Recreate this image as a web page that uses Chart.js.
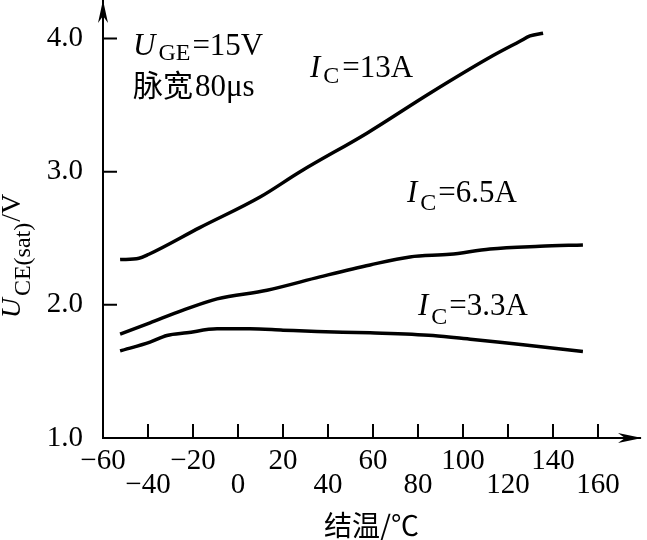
<!DOCTYPE html>
<html>
<head>
<meta charset="utf-8">
<script src="https://cdn.jsdelivr.net/npm/chart.js@4.4.1/dist/chart.umd.min.js"></script>
<style>
  html, body { margin: 0; padding: 0; background: #fff; }
  #wrap { width: 647px; height: 540px; position: relative; }
</style>
</head>
<body>
<div id="wrap"><canvas id="chart"></canvas></div>
<script>
// values (junction temperature in °C, U_CE(sat) in V)
const tempIc13 = [-52.4, -44, -39.6, -17, 9.8, 27.6, 57.3, 85.3, 112, 125.3, 129.8, 135.6];
const volIc13  = [2.34, 2.35, 2.38, 2.58, 2.81, 3.00, 3.29, 3.59, 3.86, 3.98, 4.02, 4.04];

const tempIc65 = [-52.4, -39.1, -24.4, -9.3, 12.9, 36.4, 58.7, 76.4, 94.2, 112, 134.2, 153.3];
const volIc65  = [1.78, 1.865, 1.96, 2.045, 2.11, 2.21, 2.30, 2.36, 2.38, 2.42, 2.44, 2.45];

const tempIc33 = [-52.4, -39.1, -31.6, -22.7, -9.3, 5.3, 20, 35.1, 58.7, 86.7, 104.4, 116.4, 126.7, 153.3];
const volIc33  = [1.654, 1.72, 1.77, 1.79, 1.82, 1.82, 1.81, 1.80, 1.79, 1.77, 1.74, 1.72, 1.70, 1.65];

const xTicks = [-60, -40, -20, 0, 20, 40, 60, 80, 100, 120, 140, 160];
const yTicks = [1, 2, 3, 4];

const SERIF = '"Liberation Serif", "Times New Roman", serif';
const CJK = '"Noto Sans CJK SC", sans-serif';

const pts = (xs, ys) => xs.map((x, i) => ({ x: x, y: ys[i] }));
const line = (label, data) => ({
	label, data, borderColor: '#000', borderWidth: 3.5, pointRadius: 0,
	tension: 0.4, cubicInterpolationMode: 'monotone', fill: false
});

// U, I with subscripts etc, drawn piece by piece
const rich = (ctx, x, y, parts) => {
	parts.forEach((p) => {
		ctx.font = p.f;
		ctx.fillText(p.t, x, y + (p.dy || 0));
		x += ctx.measureText(p.t).width + (p.gap || 0);
	});
};
const richWidth = (ctx, parts) => parts.reduce((w, p) => { ctx.font = p.f; return w + ctx.measureText(p.t).width + (p.gap || 0); }, 0);

const it31 = 'italic 31px ' + SERIF, rm31 = '31px ' + SERIF, sub24 = '24px ' + SERIF;

const decor = {
	id: 'decor',
	afterDraw(chart) {
		const { ctx, chartArea: ca, scales: { x, y } } = chart;
		ctx.save();
		ctx.strokeStyle = '#000'; ctx.fillStyle = '#000'; ctx.lineWidth = 2;
		// inward tick marks
		ctx.beginPath();
		x.ticks.forEach((t) => { if (t.value === x.min) return; const px = x.getPixelForValue(t.value); ctx.moveTo(px, ca.bottom); ctx.lineTo(px, ca.bottom - 14); });
		y.ticks.forEach((t) => { if (t.value === y.min) return; const py = y.getPixelForValue(t.value); ctx.moveTo(ca.left, py); ctx.lineTo(ca.left + 14, py); });
		ctx.stroke();
		// arrow heads
		ctx.beginPath();
		ctx.moveTo(ca.right + 2, ca.bottom); ctx.lineTo(ca.right - 22, ca.bottom - 5); ctx.lineTo(ca.right - 15, ca.bottom); ctx.lineTo(ca.right - 22, ca.bottom + 5); ctx.closePath();
		ctx.moveTo(ca.left, ca.top); ctx.lineTo(ca.left - 5, ca.top + 23); ctx.lineTo(ca.left, ca.top + 16); ctx.lineTo(ca.left + 5, ca.top + 23); ctx.closePath();
		ctx.fill();

		ctx.textBaseline = 'alphabetic'; ctx.textAlign = 'left';
		rich(ctx, 133, 55, [{ t: 'U', f: it31, gap: 3 }, { t: 'GE', f: sub24, dy: 5, gap: 2 }, { t: '=15V', f: rm31 }]);
		rich(ctx, 133, 96, [{ t: '脉宽', f: '30px ' + CJK, gap: 2 }, { t: '80μs', f: rm31 }]);
		rich(ctx, 310, 77, [{ t: 'I', f: it31, gap: 3 }, { t: 'C', f: sub24, dy: 6, gap: 3 }, { t: '=13A', f: rm31 }]);
		rich(ctx, 407, 202, [{ t: 'I', f: it31, gap: 3 }, { t: 'C', f: sub24, dy: 8, gap: 2 }, { t: '=6.5A', f: rm31 }]);
		rich(ctx, 418, 315, [{ t: 'I', f: it31, gap: 3 }, { t: 'C', f: sub24, dy: 9, gap: 2 }, { t: '=3.3A', f: rm31 }]);

		// y axis title, rotated
		const yTitle = [{ t: 'U', f: 'italic 28px ' + SERIF, gap: 2 }, { t: 'CE(sat)', f: sub24, dy: 10, gap: 1 }, { t: '/V', f: '28px ' + SERIF }];
		ctx.translate(20, 256);
		ctx.rotate(-Math.PI / 2);
		rich(ctx, -richWidth(ctx, yTitle) / 2, 0, yTitle);
		ctx.restore();
	}
};

Chart.defaults.color = '#000';
Chart.defaults.font.family = SERIF;

new Chart(document.getElementById('chart'), {
	type: 'line',
	data: {
		datasets: [
			line('IC=13A', pts(tempIc13, volIc13)),
			line('IC=6.5A', pts(tempIc65, volIc65)),
			line('IC=3.3A', pts(tempIc33, volIc33))
		]
	},
	options: {
		responsive: true, maintainAspectRatio: false, animation: false,
		layout: { padding: { left: 0, right: 7, top: 0, bottom: 0 } },
		plugins: { legend: { display: false }, tooltip: { enabled: false } },
		scales: {
			x: {
				type: 'linear', min: -60, max: 178.67,
				grid: { display: false, drawTicks: false },
				border: { display: true, color: '#000', width: 2 },
				afterBuildTicks: (s) => { s.ticks = xTicks.map((v) => ({ value: v })); },
				afterFit: (s) => { s.height = 102; s.paddingLeft = 0; s.paddingRight = 0; },
				ticks: {
					autoSkip: false, maxRotation: 0, minRotation: 0, padding: 11,
					font: { family: SERIF, size: 29, lineHeight: '24px' },
					callback: (v, i) => { const lbl = String(v).replace('-', '−'); return i % 2 === 0 ? [lbl, ''] : ['', lbl]; }
				},
				title: { display: true, text: '结温/℃', font: { family: CJK, size: 28, lineHeight: 1 }, padding: { top: 0, bottom: 1 } }
			},
			y: {
				type: 'linear', min: 1, max: 4.29,
				grid: { display: false, drawTicks: false },
				border: { display: true, color: '#000', width: 2 },
				afterBuildTicks: (s) => { s.ticks = yTicks.map((v) => ({ value: v })); },
				afterFit: (s) => { s.width = 103; s.paddingTop = 0; s.paddingBottom = 0; },
				ticks: { padding: 20, font: { family: SERIF, size: 29 }, callback: (v) => Number(v).toFixed(1) }
			}
		}
	},
	plugins: [decor]
});
</script>
</body>
</html>
